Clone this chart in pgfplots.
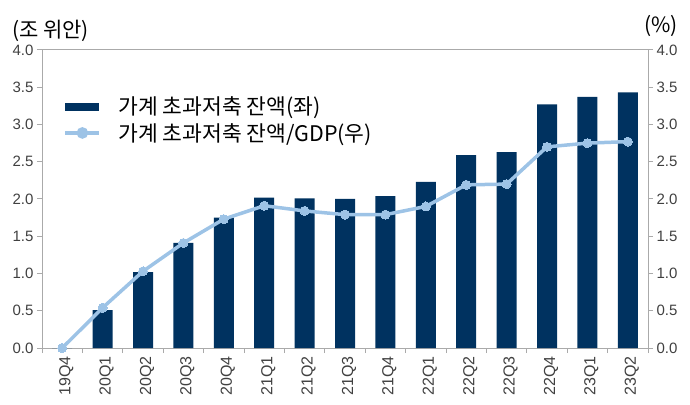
\documentclass[border=0pt]{standalone}
\usepackage{pgfplots}
\pgfplotsset{compat=1.18}
\usepackage{fontspec}
\setmainfont{Liberation Sans}
\newfontfamily\kr{Noto Sans CJK KR}
\definecolor{navy}{RGB}{0,50,96}
\definecolor{lblue}{RGB}{157,195,230}
\definecolor{axgray}{RGB}{170,170,170}
\definecolor{txt}{RGB}{64,64,64}
\pgfplotstableread{
x bar ratio
0 0.00 0.00
1 0.51 0.54
2 1.02 1.03
3 1.41 1.41
4 1.75 1.73
5 2.02 1.91
6 2.01 1.84
7 2.00 1.79
8 2.04 1.79
9 2.23 1.90
10 2.59 2.19
11 2.63 2.20
12 3.27 2.70
13 3.37 2.75
14 3.43 2.77
}\data
\begin{document}
\begin{tikzpicture}
\begin{axis}[
  scale only axis, width=606pt, height=298pt,
  xmin=-0.5, xmax=14.5, ymin=0, ymax=4,
  clip=false,
  axis line style={axgray, line width=1pt},
  tick style={axgray, line width=1pt},
  tick align=outside, major tick length=5pt,
  xtick={-0.5,0.5,...,14.5},
  x tick label as interval,
  xticklabels={19Q4,20Q1,20Q2,20Q3,20Q4,21Q1,21Q2,21Q3,21Q4,22Q1,22Q2,22Q3,22Q4,23Q1,23Q2},
  xtick pos=bottom,
  xticklabel style={rotate=90, anchor=east, yshift=-4pt, font=\fontsize{16}{19}\selectfont, text=txt},
  ytick={0,0.5,...,4},
  ytick pos=left,
  yticklabel style={font=\fontsize{15}{18}\selectfont, text=txt, /pgf/number format/.cd, fixed, fixed zerofill, precision=1},
  /pgf/number format/assume math mode=true,
  legend style={at={(rel axis cs:0.035,0.85)}, anchor=north west, draw=none, fill=none,
    font=\kr\fontsize{21.5}{25}\selectfont, text=black, row sep=3pt, inner sep=0pt,
    cells={anchor=west}},
  legend cell align=left,
]
\addplot[ybar, bar width=20pt, fill=navy, draw=none,
  legend image code/.code={\fill[navy] (0pt,-4pt) rectangle (34pt,4pt);}]
  table[x=x, y=bar] {\data};
\addlegendentry{\hspace{15pt}가계 초과저축 잔액(좌)}
\addplot[lblue, line width=3.5pt, mark=*, mark size=4.5pt, mark options={fill=lblue, draw=lblue, line width=0pt},
  legend image code/.code={\draw[lblue, line width=4pt] (0pt,0pt) -- (34pt,0pt); \fill[lblue] (17pt,0pt) circle (4pt);}]
  table[x=x, y=ratio] {\data};
\addlegendentry{\hspace{15pt}가계 초과저축 잔액/GDP(우)}
\node[anchor=west, xshift=-30pt, yshift=19pt, inner sep=0pt, font=\kr\fontsize{21}{25}\selectfont] at (rel axis cs:0,1) {(조 위안)};
\node[anchor=east, xshift=30pt, yshift=24pt, inner sep=0pt, font=\kr\fontsize{21}{25}\selectfont] at (rel axis cs:1,1) {(\%)};
\end{axis}
\begin{axis}[
  scale only axis, width=606pt, height=298pt,
  xmin=-0.5, xmax=14.5, ymin=0, ymax=4,
  axis x line=none, axis y line*=right,
  axis line style={axgray, line width=1pt},
  tick style={axgray, line width=1pt},
  tick align=outside, major tick length=5pt,
  ytick={0,0.5,...,4},
  yticklabel style={font=\fontsize{15}{18}\selectfont, text=txt, /pgf/number format/.cd, fixed, fixed zerofill, precision=1},
  /pgf/number format/assume math mode=true,
]
\addplot[draw=none] coordinates {(0,0)};
\end{axis}
\pgfresetboundingbox
\path[use as bounding box] (-42pt,-56pt) rectangle (648pt,348pt);
\end{tikzpicture}
\end{document}
